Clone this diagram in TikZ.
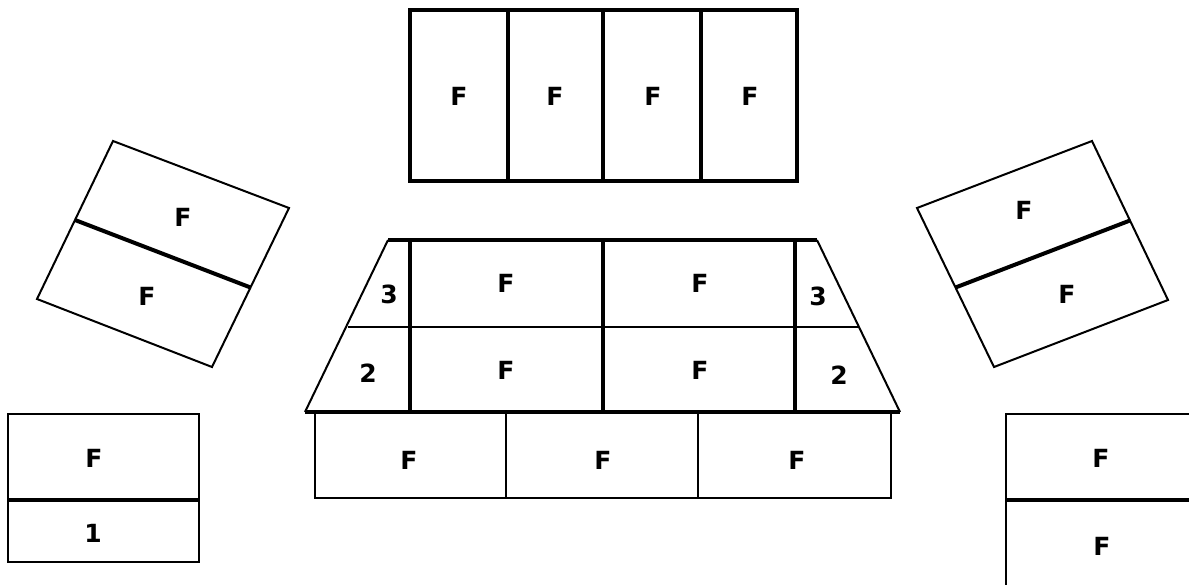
\documentclass[tikz,border=0pt]{standalone}
\usepackage{fontspec}
\setmainfont{DejaVu Sans}
\begin{document}
\begin{tikzpicture}[x=1pt,y=-1pt,
  thinln/.style={line width=2pt,line join=miter},
  midln/.style={line width=2.5pt,line join=miter},
  thickln/.style={line width=3.5pt,line join=miter},
  lbl/.style={font=\bfseries\fontsize{25}{25}\selectfont,inner sep=0pt}]
\useasboundingbox (0,0) rectangle (1189,584);
\clip (0,0) rectangle (1189,584);
% top group
\draw[thickln] (410,10) rectangle (797,181);
\draw[thickln] (508,10) -- (508,181);
\draw[line width=4pt] (603,10) -- (603,181);
\draw[thickln] (701,10) -- (701,181);
\node[lbl] (t1) at (459,96) {F};
\node[lbl] (t2) at (555,96) {F};
\node[lbl] (t3) at (653,96) {F};
\node[lbl] (t4) at (750,96) {F};
% trapezoid
\draw[thinln] (388,240) -- (305,412);
\draw[thinln] (817,240) -- (900,412);
\draw[thinln] (348,327) -- (858,327);
\draw[thickln] (388,240) -- (817,240);
\draw[line width=4pt] (305,412) -- (900,412);
\draw[thickln] (410,240) -- (410,412);
\draw[thickln] (603,240) -- (603,412);
\draw[thickln] (795,240) -- (795,412);
\node[lbl] (z1) at (389,294) {3};
\node[lbl] (z2) at (506,283) {F};
\node[lbl] (z3) at (700,283) {F};
\node[lbl] (z4) at (818,296) {3};
\node[lbl] (z5) at (368,373) {2};
\node[lbl] (z6) at (506,370) {F};
\node[lbl] (z7) at (700,370) {F};
\node[lbl] (z8) at (839,375) {2};
% bottom row
\draw[thinln] (315,413) rectangle (891,498);
\draw[thinln] (506,413) -- (506,498);
\draw[thinln] (698,413) -- (698,498);
\node[lbl] (b1) at (409,460) {F};
\node[lbl] (b2) at (603,460) {F};
\node[lbl] (b3) at (797,460) {F};
% left rotated
\draw[thinln] (113,141) -- (289,208) -- (212,367) -- (37,299) -- cycle;
\draw[line width=4pt] (75,220) -- (250.5,287.5);
\node[lbl] (l1) at (183,217) {F};
\node[lbl] (l2) at (147,296) {F};
% right rotated
\draw[thinln] (1092,141) -- (1168,300) -- (994,367) -- (917,208) -- cycle;
\draw[line width=4pt] (955.5,287.5) -- (1130,220.5);
\node[lbl] (r1) at (1024,210) {F};
\node[lbl] (r2) at (1067,294) {F};
% bottom left
\draw[midln] (8,414) rectangle (199,562);
\draw[line width=4pt] (8,500) -- (199,500);
\node[lbl] (bl1) at (94,458) {F};
\node[lbl] (bl2) at (93,533) {1};
% bottom right
\draw[midln] (1006,414) rectangle (1198,600);
\draw[line width=4pt] (1006,500) -- (1198,500);
\node[lbl] (br1) at (1101,458) {F};
\node[lbl] (br2) at (1102,546) {F};
\end{tikzpicture}
\end{document}
